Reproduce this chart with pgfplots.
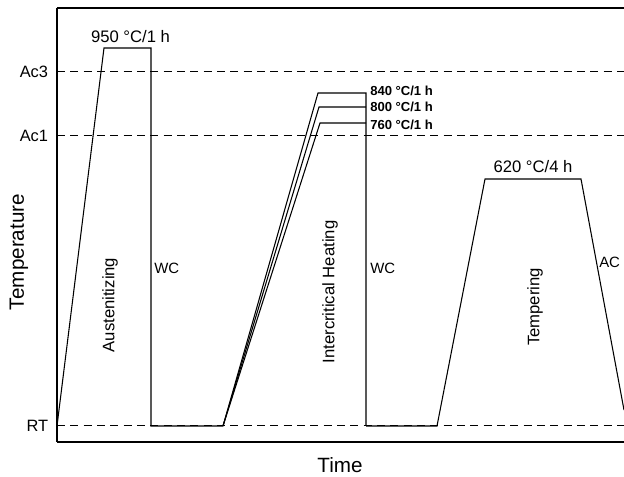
\documentclass[border=0pt]{standalone}
\usepackage{fontspec}
\setmainfont{Liberation Sans}
\usepackage{pgfplots}
\pgfplotsset{compat=1.18}
\begin{document}
\begin{tikzpicture}[x=1pt,y=1pt]
\begin{axis}[
  scale only axis,
  width=425.25pt, height=325.5pt,
  xmin=57, xmax=624, ymin=35, ymax=469,
  axis lines=left,
  axis line style={-, line width=0.9pt},
  xtick=\empty,
  ytick={51,341,405},
  yticklabels={RT,Ac1,Ac3},
  major tick length=0pt,
  yticklabel style={font=\fontsize{12.3}{14}\selectfont, inner sep=0pt, xshift=-6.5pt},
  clip=false,
]
% dashed reference lines
\addplot[black, line width=0.75pt, dash pattern=on 6pt off 4pt] coordinates {(57,51) (624,51)};
\addplot[black, line width=0.75pt, dash pattern=on 6pt off 4pt] coordinates {(57,341) (624,341)};
\addplot[black, line width=0.75pt, dash pattern=on 6pt off 4pt] coordinates {(57,405) (624,405)};
% austenitizing
\addplot[black, line width=0.8pt] coordinates {(57,51) (104,429) (151,429) (151,51) (223,51)};
% intercritical
\addplot[black, line width=0.8pt] coordinates {(223,51) (318,384) (366,384) (366,51)};
\addplot[black, line width=0.8pt] coordinates {(223,51) (319,370) (366,370)};
\addplot[black, line width=0.8pt] coordinates {(223,51) (320,354) (366,354)};
% tempering
\addplot[black, line width=0.8pt] coordinates {(366,51) (437,51) (485,298) (581,298) (624,67)};
% top border
\draw[line width=0.9pt] (rel axis cs:0,1) -- (rel axis cs:1,1);
% annotations
\node[font=\fontsize{12.5}{14}\selectfont] at (axis cs:130.5,440) {950 °C/1 h};
\node[font=\fontsize{12.5}{14}\selectfont] at (axis cs:533,310) {620 °C/4 h};
\node[font=\bfseries\fontsize{9.8}{11}\selectfont, anchor=west, inner sep=0pt] at (axis cs:370,386) {840 °C/1 h};
\node[font=\bfseries\fontsize{9.8}{11}\selectfont, anchor=west, inner sep=0pt] at (axis cs:370,370) {800 °C/1 h};
\node[font=\bfseries\fontsize{9.8}{11}\selectfont, anchor=west, inner sep=0pt] at (axis cs:370,352) {760 °C/1 h};
\node[font=\fontsize{11.2}{13}\selectfont, anchor=west, inner sep=0pt] at (axis cs:154,209) {WC};
\node[font=\fontsize{11.2}{13}\selectfont, anchor=west, inner sep=0pt] at (axis cs:370,209) {WC};
\node[font=\fontsize{11.2}{13}\selectfont, anchor=west, inner sep=0pt] at (axis cs:599,215) {AC};
\node[font=\fontsize{12.5}{14}\selectfont, rotate=90] at (axis cs:110,172) {Austenitizing};
\node[font=\fontsize{12.5}{14}\selectfont, rotate=90] at (axis cs:330,185) {Intercritical Heating};
\node[font=\fontsize{12.5}{14}\selectfont, rotate=90] at (axis cs:535,170) {Tempering};
\node[font=\fontsize{15.5}{18}\selectfont, rotate=90] at (axis cs:19,225) {Temperature};
\node[font=\fontsize{15.5}{18}\selectfont] at (axis cs:340,12) {Time};
\end{axis}
\pgfresetboundingbox
\path (-42.75pt,-26.25pt) rectangle (425.25pt,331.5pt);
\end{tikzpicture}
\end{document}
